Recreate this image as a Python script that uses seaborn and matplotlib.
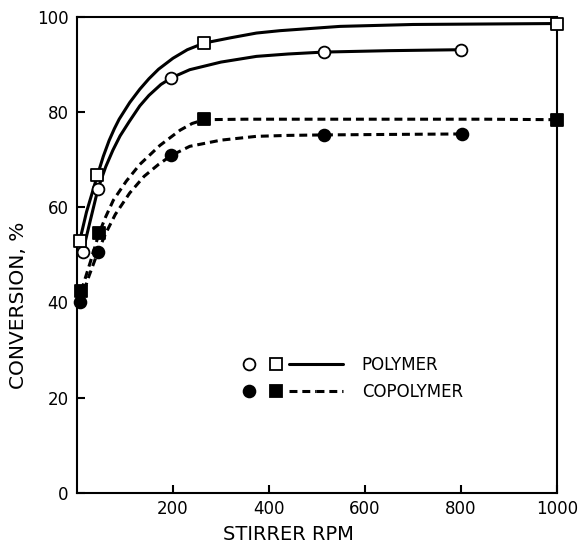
import matplotlib
matplotlib.use("Agg")
import matplotlib.pyplot as plt
from matplotlib.lines import Line2D
from matplotlib.legend_handler import HandlerTuple
import pandas as pd
import seaborn as sns

sns.set_theme(style="ticks")
plt.rcParams["font.family"] = ["DejaVu Sans"]

# measured points
poly_circle_x = [12, 44, 197, 515, 800]
poly_circle_y = [50.5, 63.9, 87.2, 92.6, 93.1]
poly_square_x = [6, 42, 265, 1000]
poly_square_y = [53.0, 66.7, 94.5, 98.6]
copoly_circle_x = [7, 44, 197, 515, 801]
copoly_circle_y = [40.0, 50.6, 70.9, 75.2, 75.4]
copoly_square_x = [9, 46, 265, 1000]
copoly_square_y = [42.4, 54.5, 78.5, 78.4]

# hand-drawn curves
poly_sq_curve_x = [6, 20, 43, 55, 67, 78, 88, 110, 131, 150, 170, 200, 230,
                   265, 320, 374, 423, 548, 700, 850, 1000]
poly_sq_curve_y = [53.0, 59.0, 66.8, 70.7, 74.0, 76.5, 78.5, 82.0, 84.8, 87.0,
                   89.0, 91.3, 93.1, 94.5, 95.6, 96.6, 97.1, 98.0, 98.4, 98.5,
                   98.6]
poly_ci_curve_x = [12, 25, 44, 60, 75, 90, 109, 131, 150, 175, 197, 235, 300,
                   374, 440, 513, 650, 800]
poly_ci_curve_y = [50.5, 56.0, 63.9, 68.5, 72.0, 75.0, 78.0, 81.3, 83.5, 85.8,
                   87.2, 88.9, 90.5, 91.7, 92.2, 92.6, 92.9, 93.1]
copoly_sq_curve_x = [9, 28, 46, 60, 76, 103, 131, 173, 215, 240, 265, 350,
                     500, 700, 850, 1000]
copoly_sq_curve_y = [42.4, 48.5, 54.5, 58.0, 61.5, 65.5, 69.0, 73.0, 76.2,
                     77.6, 78.4, 78.5, 78.5, 78.5, 78.5, 78.4]
copoly_ci_curve_x = [7, 25, 44, 60, 80, 110, 140, 170, 197, 235, 300, 374,
                     440, 515, 650, 801]
copoly_ci_curve_y = [40.0, 45.5, 50.7, 54.5, 58.5, 63.0, 66.5, 69.0, 70.9,
                     72.8, 74.1, 74.9, 75.1, 75.2, 75.3, 75.4]

x_ticks = [200, 400, 600, 800, 1000]
y_ticks = [0, 20, 40, 60, 80, 100]

fig = plt.figure(figsize=(5.87, 5.44), dpi=100)
ax = fig.add_axes([0.131, 0.094, 0.818, 0.875])

dash = (2.6, 1.6)
curves = [
    (poly_sq_curve_x, poly_sq_curve_y, "-"),
    (poly_ci_curve_x, poly_ci_curve_y, "-"),
    (copoly_sq_curve_x, copoly_sq_curve_y, "--"),
    (copoly_ci_curve_x, copoly_ci_curve_y, "--"),
]
for cx, cy, ls in curves:
    d = pd.DataFrame({"x": cx, "y": cy})
    sns.lineplot(data=d, x="x", y="y", ax=ax, color="black", lw=2.2,
                 sort=False, estimator=None)
    l = ax.lines[-1]
    if ls == "--":
        l.set_dashes(dash)
    l.set_solid_joinstyle("round")

pts = [
    (poly_circle_x, poly_circle_y, "o", "white", 72),
    (poly_square_x, poly_square_y, "s", "white", 64),
    (copoly_circle_x, copoly_circle_y, "o", "black", 72),
    (copoly_square_x, copoly_square_y, "s", "black", 64),
]
for px, py, m, fc, s in pts:
    sns.scatterplot(x=px, y=py, ax=ax, marker=m, s=s, facecolor=fc,
                    edgecolor="black", linewidth=1.3, zorder=5, clip_on=False)

ax.set_xlim(0, 1000)
ax.set_ylim(0, 100)
ax.set_xticks(x_ticks)
ax.set_yticks(y_ticks)
ax.tick_params(direction="in", length=6, width=1.5, labelsize=12,
               color="black", labelcolor="black")
ax.tick_params(axis="x", pad=5)
ax.tick_params(axis="y", pad=6)
for side in ["left", "bottom", "right", "top"]:
    ax.spines[side].set_visible(True)
    ax.spines[side].set_color("black")
    ax.spines[side].set_linewidth(1.5)

ax.set_xlabel("STIRRER RPM", fontsize=14, color="black")
ax.set_ylabel("CONVERSION, %", fontsize=14.5, color="black")
ax.xaxis.set_label_coords(0.44, -0.068)
ax.yaxis.set_label_coords(-0.102, 0.393)

h_oc = Line2D([], [], marker="o", ls="none", mfc="white", mec="black",
              ms=8.5, mew=1.3)
h_os = Line2D([], [], marker="s", ls="none", mfc="white", mec="black",
              ms=8, mew=1.3)
h_fc = Line2D([], [], marker="o", ls="none", mfc="black", mec="black",
              ms=8.5, mew=1.3)
h_fs = Line2D([], [], marker="s", ls="none", mfc="black", mec="black",
              ms=8, mew=1.3)
h_sl = Line2D([], [], color="black", lw=2.2)
h_dl = Line2D([], [], color="black", lw=2.2, dashes=dash)
leg = ax.legend([(h_oc, h_os, h_sl, h_sl), (h_fc, h_fs, h_dl, h_dl)],
                ["POLYMER", "COPOLYMER"],
                handler_map={tuple: HandlerTuple(ndivide=None, pad=0)},
                loc="center left", bbox_to_anchor=(0.298, 0.24),
                frameon=False, fontsize=12, handlelength=6.5,
                handletextpad=1.1, labelspacing=0.55)
for t in leg.get_texts():
    t.set_color("black")

fig.savefig("out.png", dpi=100)
